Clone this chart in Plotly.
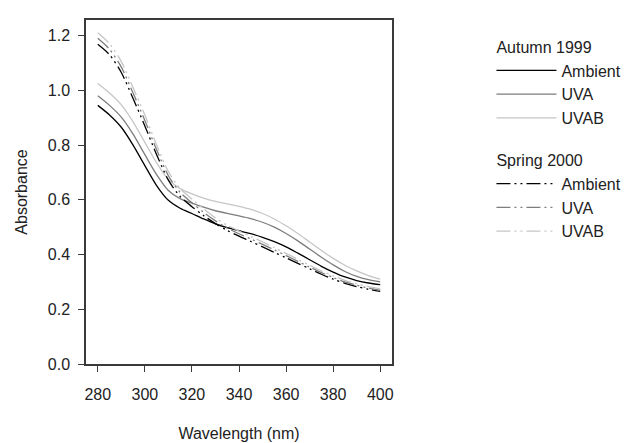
import plotly.graph_objects as go

wavelength = [280, 285, 290, 295, 300, 305, 310, 315, 320, 325, 330, 335, 340,
              345, 350, 355, 360, 365, 370, 375, 380, 385, 390, 395, 400]

# Autumn 1999
aut_ambient = [0.945, 0.91, 0.865, 0.8, 0.725, 0.652, 0.598, 0.569, 0.55, 0.53,
               0.512, 0.498, 0.487, 0.476, 0.463, 0.447, 0.428, 0.405, 0.381, 0.357,
               0.336, 0.318, 0.305, 0.296, 0.29]
aut_uva = [0.98, 0.945, 0.902, 0.84, 0.765, 0.692, 0.634, 0.604, 0.588, 0.573,
           0.56, 0.55, 0.541, 0.531, 0.518, 0.5, 0.477, 0.45, 0.42, 0.39,
           0.362, 0.338, 0.32, 0.308, 0.30]
aut_uvab = [1.025, 0.99, 0.947, 0.885, 0.81, 0.735, 0.674, 0.641, 0.622, 0.606,
            0.594, 0.585, 0.576, 0.565, 0.55, 0.53, 0.505, 0.477, 0.446, 0.415,
            0.386, 0.361, 0.34, 0.323, 0.31]

# Spring 2000
spr_ambient = [1.168, 1.13, 1.065, 0.97, 0.87, 0.765, 0.672, 0.612, 0.575, 0.542,
               0.513, 0.488, 0.467, 0.448, 0.428, 0.408, 0.388, 0.368, 0.348, 0.328,
               0.31, 0.295, 0.283, 0.273, 0.265]
spr_uva = [1.19, 1.15, 1.085, 0.99, 0.89, 0.783, 0.688, 0.627, 0.589, 0.554,
           0.523, 0.497, 0.476, 0.457, 0.437, 0.417, 0.396, 0.375, 0.354, 0.334,
           0.316, 0.3, 0.288, 0.278, 0.27]
spr_uvab = [1.21, 1.17, 1.105, 1.01, 0.91, 0.8, 0.703, 0.641, 0.603, 0.567,
            0.534, 0.507, 0.486, 0.466, 0.446, 0.425, 0.404, 0.382, 0.361, 0.34,
            0.322, 0.306, 0.293, 0.283, 0.275]

treatments = ["Ambient", "UVA", "UVAB"]
colors = ["#000000", "#7d7d7d", "#c6c6c6"]
seasons = [
    ("Autumn 1999", [aut_ambient, aut_uva, aut_uvab], "solid"),
    ("Spring 2000", [spr_ambient, spr_uva, spr_uvab], "14px,4px,2px,4px,2px,4px"),
]

fig = go.Figure()
for season, series, dash in seasons:
    for name, ys, col in zip(treatments, series, colors):
        fig.add_trace(go.Scatter(
            x=wavelength, y=ys, mode="lines", name=name,
            line=dict(color=col, width=1.3, dash=dash, shape="spline", smoothing=0.8),
            legendgroup=season, legendgrouptitle_text=season,
        ))

axis_style = dict(
    showline=True, linecolor="#3a3a3a", linewidth=1.5, mirror=True,
    ticks="outside", ticklen=6, tickwidth=1, tickcolor="#3a3a3a",
    showgrid=False, zeroline=False,
    tickfont=dict(size=16, color="#222222"),
)

fig.update_layout(
    width=629, height=443,
    margin=dict(l=78, r=244, t=10, b=87),
    plot_bgcolor="white", paper_bgcolor="white",
    font=dict(family="Liberation Sans, Arial, sans-serif", color="#222222"),
    xaxis=dict(range=[275, 405], tickvals=[280, 300, 320, 340, 360, 380, 400],
               ticklabelstandoff=9,
               title=dict(text="Wavelength (nm)", font=dict(size=16), standoff=26),
               **axis_style),
    yaxis=dict(range=[0, 1.257], tickvals=[0, 0.2, 0.4, 0.6, 0.8, 1.0, 1.2],
               tickformat=".1f", ticklabelstandoff=5,
               title=dict(text="Absorbance", font=dict(size=16), standoff=16),
               **axis_style),
    legend=dict(
        x=1.325, y=0.972, xanchor="left", yanchor="top",
        font=dict(size=16, color="#222222"),
        grouptitlefont=dict(size=16, color="#222222"),
        tracegroupgap=18, itemwidth=60, bgcolor="rgba(0,0,0,0)",
    ),
)

fig.write_html("out.html")
